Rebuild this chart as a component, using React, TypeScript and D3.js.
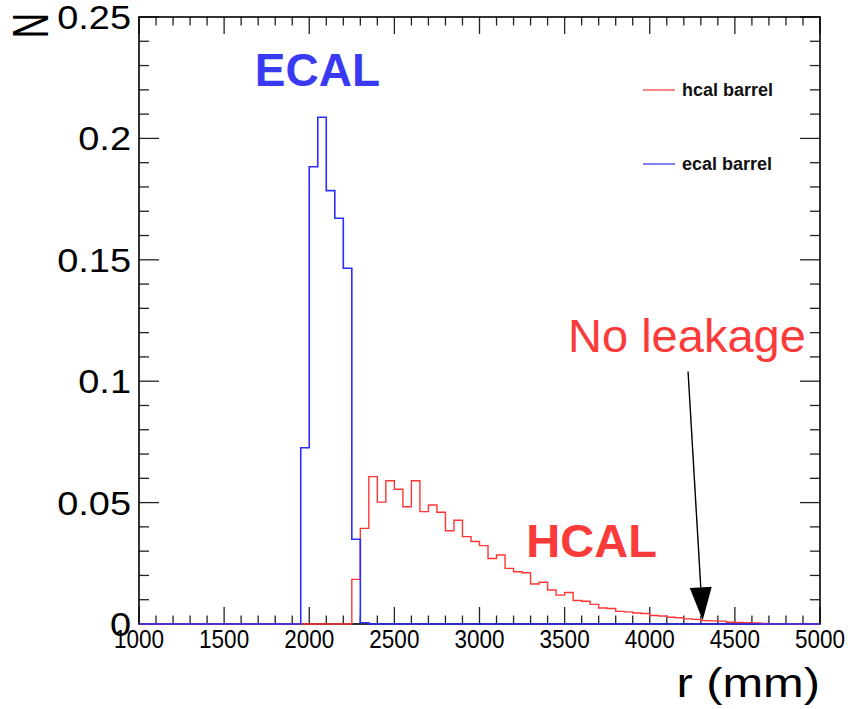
import React from "react";
import * as d3 from "d3";

// ---- data (bins of 50 mm) ----
const binWidth = 50;
const ecalStart = 1950;
const ecalValues = [0.0726, 0.1883, 0.2087, 0.1785, 0.1671, 0.1465, 0.0349, 0.0005];
const hcalStart = 2250;
const hcalValues = [
  0.0184, 0.0394, 0.0607, 0.0502, 0.059, 0.0555, 0.0483, 0.059, 0.0463, 0.049,
  0.046, 0.0384, 0.0427, 0.036, 0.034, 0.0323, 0.027, 0.0284, 0.0229, 0.0215,
  0.0211, 0.0165, 0.0172, 0.014, 0.0119, 0.013, 0.0097, 0.0094, 0.0081, 0.0066,
  0.0064, 0.0052, 0.005, 0.0045, 0.0043, 0.0035, 0.0033, 0.0028, 0.0026, 0.0021,
  0.0019, 0.0014, 0.0013, 0.0012, 0.0007, 0.0006, 0.0005, 0.0004, 0.0002,
];
const xTickLabels = [1000, 1500, 2000, 2500, 3000, 3500, 4000, 4500, 5000];
const yTickLabels = [0, 0.05, 0.1, 0.15, 0.2, 0.25];
const yTickText = ["0", "0.05", "0.1", "0.15", "0.2", "0.25"];
const legendItems = ["hcal barrel", "ecal barrel"];
const xDomain = [1000, 5000];
const yDomain = [0, 0.25];

const W = 848;
const H = 709;
const M = { left: 139, right: 820, top: 17, bottom: 624 };
const FONT = "'Liberation Sans', Arial, Helvetica, sans-serif";
const BLUE = "#2c2cff";
const RED = "#ff3535";

const x = d3.scaleLinear().domain(xDomain).range([M.left, M.right]);
const y = d3.scaleLinear().domain(yDomain).range([M.bottom, M.top]);

function histPath(start: number, values: number[]): string {
  const pts: [number, number][] = [];
  pts.push([xDomain[0], 0]);
  pts.push([start, 0]);
  values.forEach((v, i) => {
    const lo = start + i * binWidth;
    const hi = lo + binWidth;
    pts.push([lo, v]);
    pts.push([hi, v]);
  });
  pts.push([start + values.length * binWidth, 0]);
  pts.push([xDomain[1], 0]);
  const line = d3
    .line<[number, number]>()
    .x((d) => x(d[0]))
    .y((d) => y(d[1]));
  return line(pts) || "";
}

export default function App() {
  const xMinor = d3.range(1000, 5001, 100);
  const yMinor = d3.range(0, 0.2501, 0.01);
  const isMajorX = (v: number) => Math.abs(v % 500) < 1e-6;
  const isMajorY = (v: number) => Math.abs(v / 0.05 - Math.round(v / 0.05)) < 1e-6;

  const arrowStart = [4225, 0.104];
  const arrowTip = [4311, 0.0015];
  const ax0 = x(arrowStart[0]);
  const ay0 = y(arrowStart[1]);
  const ax1 = x(arrowTip[0]);
  const ay1 = y(arrowTip[1]);
  const ang = Math.atan2(ay1 - ay0, ax1 - ax0);
  const headLen = 33;
  const headHalf = 11;
  const bx = ax1 - headLen * Math.cos(ang);
  const by = ay1 - headLen * Math.sin(ang);
  const px = -Math.sin(ang);
  const py = Math.cos(ang);

  return (
    <svg
      width={W}
      height={H}
      style={{ position: "absolute", left: 0, top: 0, background: "#fff" }}
      fontFamily={FONT}
    >
      <rect x={0} y={0} width={W} height={H} fill="#fff" />
      {/* ticks */}
      <g stroke="#222" strokeWidth={1.3}>
        {xMinor.map((v) => {
          const len = isMajorX(v) ? 17 : 8.5;
          return (
            <g key={"xt" + v}>
              <line x1={x(v)} x2={x(v)} y1={M.bottom} y2={M.bottom - len} />
              <line x1={x(v)} x2={x(v)} y1={M.top} y2={M.top + len} />
            </g>
          );
        })}
        {yMinor.map((v) => {
          const len = isMajorY(v) ? 20 : 10;
          return (
            <g key={"yt" + v.toFixed(3)}>
              <line x1={M.left} x2={M.left + len} y1={y(v)} y2={y(v)} />
              <line x1={M.right} x2={M.right - len} y1={y(v)} y2={y(v)} />
            </g>
          );
        })}
      </g>
      {/* frame */}
      <rect
        x={M.left}
        y={M.top}
        width={M.right - M.left}
        height={M.bottom - M.top}
        fill="none"
        stroke="#000"
        strokeWidth={1.6}
      />
      {/* histograms */}
      <path d={histPath(hcalStart, hcalValues)} fill="none" stroke={RED} strokeWidth={1.4} />
      <path d={histPath(ecalStart, ecalValues)} fill="none" stroke={BLUE} strokeWidth={1.6} />

      {/* y tick labels */}
      {yTickLabels.map((v, i) => (
        <text
          key={"yl" + i}
          transform={`translate(${M.left - 8},${y(v) + 12}) scale(1.15,1)`}
          textAnchor="end"
          fontSize={33}
          fill="#000"
        >
          {yTickText[i]}
        </text>
      ))}
      {/* x tick labels */}
      {xTickLabels.map((v) => (
        <text
          key={"xl" + v}
          transform={`translate(${x(v)},${648}) scale(0.9,1)`}
          textAnchor="middle"
          fontSize={25}
          fill="#000"
        >
          {v}
        </text>
      ))}
      {/* axis titles */}
      <text
        transform={`translate(${M.right},${697}) scale(1.22,1)`}
        textAnchor="end"
        fontSize={40}
        fill="#000"
      >
        r (mm)
      </text>
      <text
        transform={`translate(48,13) rotate(-90) scale(1,1.45)`}
        textAnchor="end"
        fontSize={35}
        fill="#000"
      >
        N
      </text>

      {/* legend */}
      {legendItems.map((name, i) => (
        <g key={name}>
          <line
            x1={643}
            x2={675}
            y1={90 + i * 74}
            y2={90 + i * 74}
            stroke={i === 0 ? RED : BLUE}
            strokeWidth={1.2}
          />
          <text x={682} y={96 + i * 74} fontSize={18} fontWeight="bold" fill="#111">
            {name}
          </text>
        </g>
      ))}

      {/* annotations */}
      <text x={x(1680)} y={86} fontSize={46} fontWeight="bold" fill="#3a3af5">
        ECAL
      </text>
      <text x={x(3275)} y={557} fontSize={47} fontWeight="bold" fill="#fb3a3a">
        HCAL
      </text>
      <text x={x(3520)} y={352} fontSize={47} fill="#fb3a3a">
        No leakage
      </text>
      <line x1={ax0} y1={ay0} x2={bx} y2={by} stroke="#000" strokeWidth={1.4} />
      <polygon
        points={`${ax1},${ay1} ${bx + px * headHalf},${by + py * headHalf} ${bx - px * headHalf},${by - py * headHalf}`}
        fill="#000"
      />
    </svg>
  );
}
